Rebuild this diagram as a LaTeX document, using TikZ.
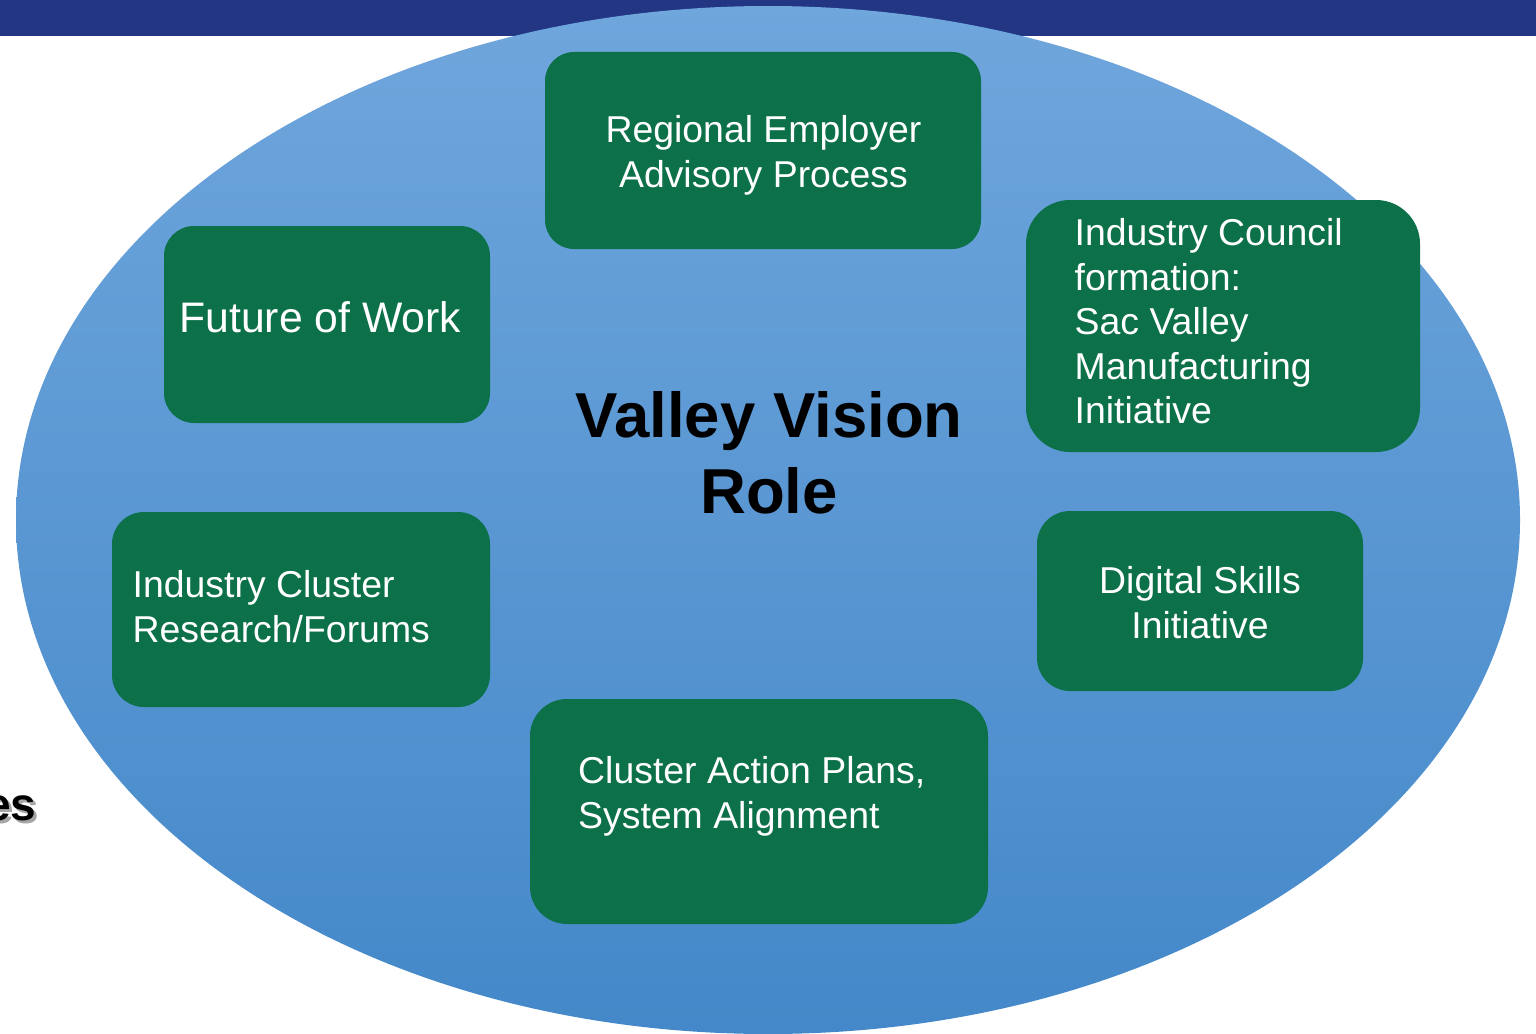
\documentclass[tikz,border=0pt]{standalone}
\usepackage{fontspec}
\setmainfont{Liberation Sans}
\definecolor{vvnavy}{HTML}{223684}
\definecolor{vvtop}{HTML}{6FA6DC}
\definecolor{vvbot}{HTML}{4488C9}
\definecolor{vvgreen}{HTML}{0C7049}
\begin{document}
\begin{tikzpicture}[x=1pt,y=-1pt,
  gbox/.style={fill=vvgreen, draw=none, inner sep=0pt, rectangle},
  btext/.style={text=white, inner sep=0pt, font=\fontsize{37.4}{44.6}\selectfont},
  ctext/.style={text=black, inner sep=0pt, align=center, font=\fontsize{63.5}{76}\selectfont\bfseries}]
\useasboundingbox (0,0) rectangle (1536,1033);
\clip (0,0) rectangle (1536,1033);
\fill[white] (0,0) rectangle (1536,1033);
\fill[vvnavy] (0,0) rectangle (1536,36.5);
% partial title behind ellipse
\node[text=black!35, inner sep=0pt, anchor=base east, font=\fontsize{46}{50}\selectfont\bfseries] (esshadow) at (39.5,823) {es};
\node[text=black, inner sep=0pt, anchor=base east, font=\fontsize{46}{50}\selectfont\bfseries] (es) at (36.5,820) {es};
% ellipse
\shade[top color=vvtop, bottom color=vvbot] (768,520) ellipse (752 and 514);
% boxes
\node[gbox, minimum width=436pt, minimum height=197pt, rounded corners=29pt] (reg) at (763,150.5) {};
\node[gbox, minimum width=326pt, minimum height=197pt, rounded corners=30pt] (fow) at (327,324.5) {};
\node[gbox, minimum width=394pt, minimum height=252pt, rounded corners=44pt] (ic) at (1223,326) {};
\node[gbox, minimum width=378pt, minimum height=195pt, rounded corners=32pt] (icr) at (301,609.5) {};
\node[gbox, minimum width=326pt, minimum height=180pt, rounded corners=33pt] (dsi) at (1200,601) {};
\node[gbox, minimum width=458pt, minimum height=225pt, rounded corners=37pt] (cap) at (759,811.5) {};
% texts
\node[btext, align=center, anchor=north] (regt) at (763.5,115.2) {Regional Employer\\Advisory Process};
\node[btext, anchor=north west, font=\fontsize{42.7}{50}\selectfont] (fowt) at (179.3,301.2) {Future of Work};
\node[btext, align=left, anchor=north west] (ict) at (1074.5,218.2) {Industry Council\\formation:\\Sac Valley\\Manufacturing\\Initiative};
\node[btext, align=left, anchor=north west] (icrt) at (132.5,570.2) {Industry Cluster\\Research/Forums};
\node[btext, align=center, anchor=north] (dsit) at (1200,566.2) {Digital Skills\\Initiative};
\node[btext, align=left, anchor=north west] (capt) at (578,756.2) {Cluster Action Plans,\\System Alignment};
\node[ctext, anchor=north] (vv) at (769,391.5) {Valley Vision\\Role};
\end{tikzpicture}
\end{document}
